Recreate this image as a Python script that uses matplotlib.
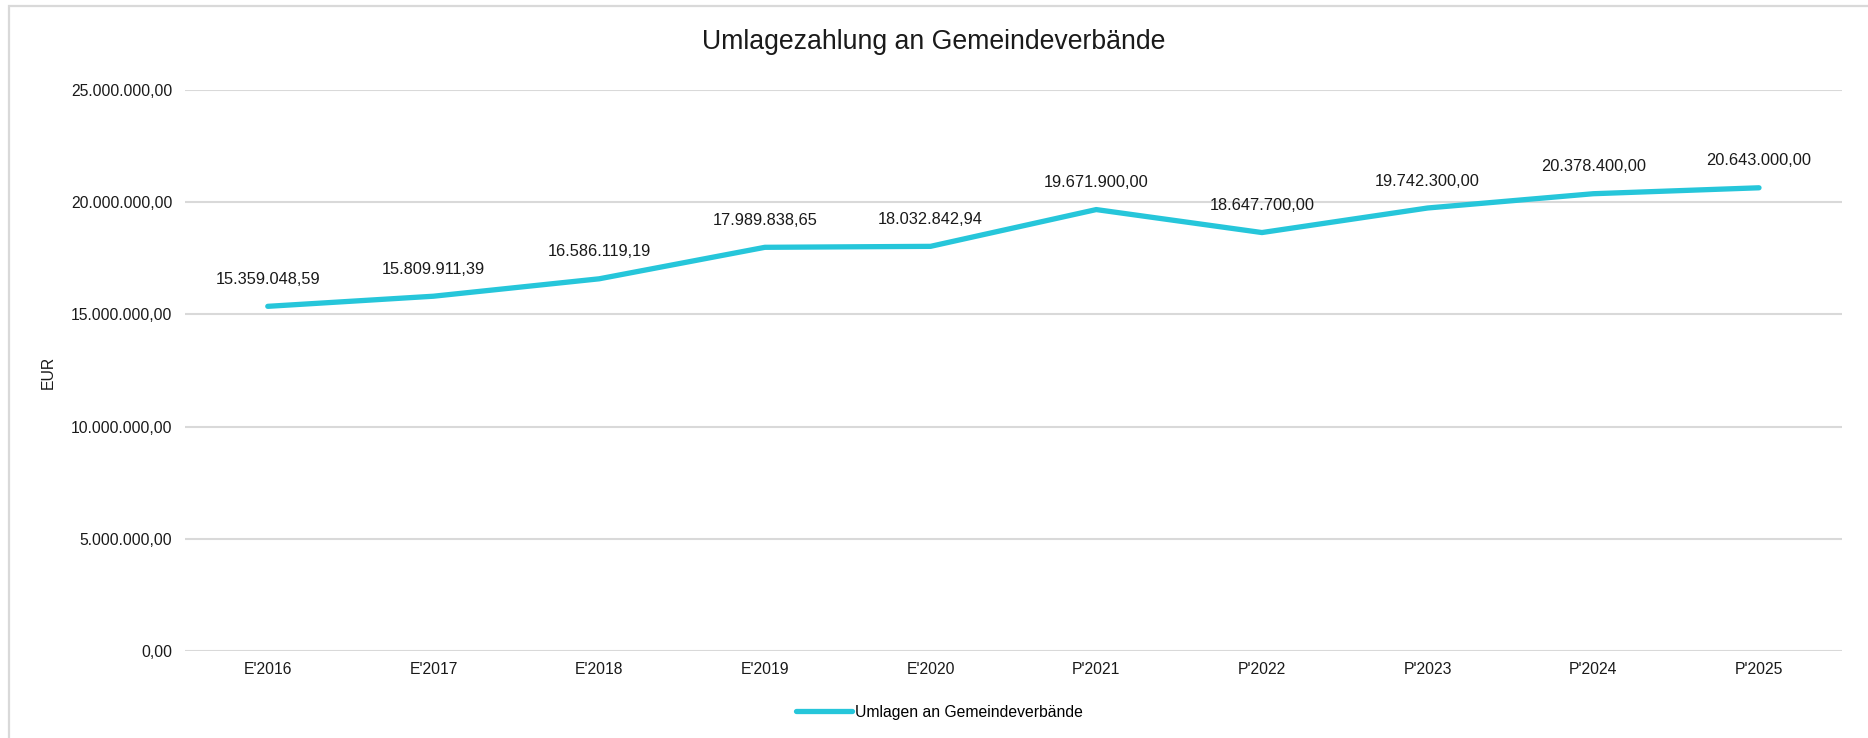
import matplotlib.pyplot as plt
from matplotlib.patches import Rectangle
from matplotlib.lines import Line2D
from matplotlib.ticker import FuncFormatter

plt.rcParams['font.family'] = ['Liberation Sans', 'DejaVu Sans']

jahre = ["E'2016", "E'2017", "E'2018", "E'2019", "E'2020",
         "P'2021", "P'2022", "P'2023", "P'2024", "P'2025"]
umlagen = [15359048.59, 15809911.39, 16586119.19, 17989838.65, 18032842.94,
           19671900.00, 18647700.00, 19742300.00, 20378400.00, 20643000.00]

farbe = "#26C6DA"


def de_format(v, pos=None):
    s = f"{v:,.2f}"
    return s.replace(",", "X").replace(".", ",").replace("X", ".")


fig = plt.figure(figsize=(18.68, 7.38), dpi=100)
ax = fig.add_axes([0.099, 0.118, 0.887, 0.760])

x = list(range(len(jahre)))
ax.plot(x, umlagen, color=farbe, lw=3.8, solid_capstyle='round', solid_joinstyle='round', zorder=3)
for xi, yi in zip(x, umlagen):
    ax.annotate(de_format(yi), (xi, yi), xytext=(0, 14), textcoords='offset points',
                ha='center', va='bottom', fontsize=11.8, color='#1a1a1a')

ax.set_xlim(-0.5, len(jahre) - 0.5)
ax.set_ylim(0, 25000000)
ax.set_yticks(range(0, 25000001, 5000000))
ax.yaxis.set_major_formatter(FuncFormatter(de_format))
ax.set_xticks(x)
ax.set_xticklabels(jahre)
ax.grid(axis='y', color='#d9d9d9', lw=1.5, zorder=0)
ax.tick_params(axis='both', length=0, labelsize=11.3, colors='#1a1a1a')
ax.tick_params(axis='y', pad=9)
ax.tick_params(axis='x', pad=8)
for s in ax.spines.values():
    s.set_visible(False)

fig.text(0.026, 0.496, "EUR", rotation=90, ha='center', va='center', fontsize=11.3, color='#1a1a1a')
fig.text(0.5, 0.943, "Umlagezahlung an Gemeindeverbände", ha='center', va='center', fontsize=19.2, color='#1a1a1a')

handle = Line2D([], [], color=farbe, lw=3.8, solid_capstyle='round')
fig.legend([handle], ["Umlagen an Gemeindeverbände"], loc='center', bbox_to_anchor=(0.503, 0.035),
           frameon=False, fontsize=11.3, handlelength=3.6, handletextpad=0.2)

# grey frame (top and left edge visible)
fig.add_artist(Rectangle((9 / 1868, -0.1), 1.2, 1.1 - 6 / 738, transform=fig.transFigure,
                         fill=False, edgecolor='#d9d9d9', lw=1.6))

fig.savefig("out.png", dpi=100)
